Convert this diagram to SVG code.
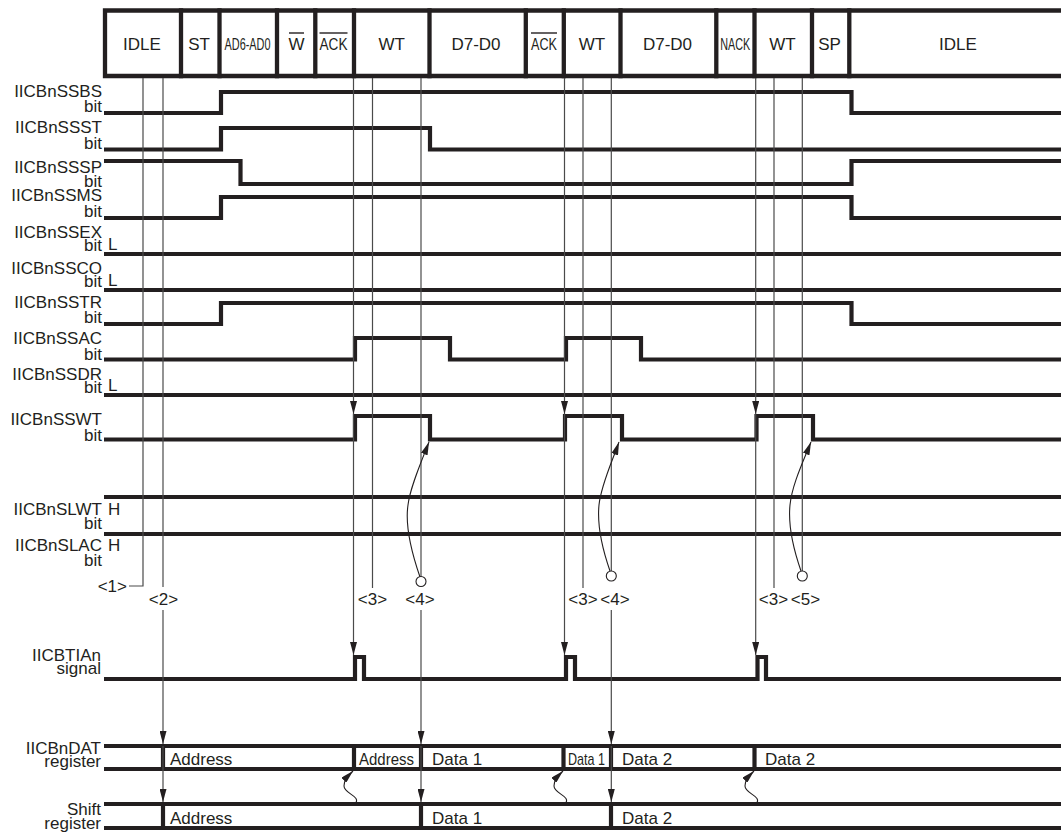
<svg xmlns="http://www.w3.org/2000/svg" width="1061" height="833" viewBox="0 0 1061 833">
<defs>
<style>
.t{font-family:"Liberation Sans",Arial,Helvetica,sans-serif;font-size:17px;fill:#231f20}
.e{text-anchor:end}
.m{text-anchor:middle}
.s{text-anchor:start}
.sig{fill:none;stroke:#231f20;stroke-width:4.2;stroke-linejoin:miter;stroke-linecap:butt}
.bx{fill:none;stroke:#231f20;stroke-width:4.3;stroke-linecap:square}
.ol{stroke:#231f20;stroke-width:1.4}
.v{fill:none;stroke:#4a4a4a;stroke-width:1.2}
.c{fill:none;stroke:#231f20;stroke-width:1.1}
</style>
<marker id="a" viewBox="0 0 13 7" refX="13" refY="3.5" markerWidth="13" markerHeight="7" markerUnits="userSpaceOnUse" orient="auto">
<path d="M0,0 L13,3.5 L0,7 Z" fill="#231f20"/>
</marker>
</defs>
<rect width="1061" height="833" fill="#fff"/>

<g id="header">
<path class="bx" d="M105,10.5 H1063 M105,76 H1063 M105,10.5 V76"/>
<path class="bx" d="M181,10.5 V76 M219.5,10.5 V76 M277,10.5 V76 M315.3,10.5 V76 M354,10.5 V76 M429.5,10.5 V76 M525.8,10.5 V76 M563.8,10.5 V76 M620.5,10.5 V76 M716.3,10.5 V76 M754.5,10.5 V76 M812,10.5 V76 M849.3,10.5 V76"/>
<text class="t m" x="142" y="50">IDLE</text>
<text class="t m" x="199" y="50">ST</text>
<text class="t m" x="247.5" y="50" textLength="46" lengthAdjust="spacingAndGlyphs">AD6-AD0</text>
<text class="t m" x="296.5" y="50">W</text>
<line class="ol" x1="289" y1="33" x2="304" y2="33"/>
<text class="t m" x="333.5" y="50" textLength="28" lengthAdjust="spacingAndGlyphs">ACK</text>
<line class="ol" x1="319.5" y1="33" x2="347.5" y2="33"/>
<text class="t m" x="391.7" y="50">WT</text>
<text class="t m" x="476" y="50">D7-D0</text>
<text class="t m" x="544" y="50" textLength="26" lengthAdjust="spacingAndGlyphs">ACK</text>
<line class="ol" x1="531" y1="33" x2="557" y2="33"/>
<text class="t m" x="592" y="50">WT</text>
<text class="t m" x="667.5" y="50">D7-D0</text>
<text class="t m" x="735.3" y="50" textLength="30" lengthAdjust="spacingAndGlyphs">NACK</text>
<text class="t m" x="782.5" y="50">WT</text>
<text class="t m" x="829.5" y="50">SP</text>
<text class="t m" x="958" y="50">IDLE</text>
</g>

<g id="sig-ssbs">
<text class="t e" x="102" y="97">IICBnSSBS</text><text class="t e" x="102" y="112">bit</text>
<path class="sig" d="M104,113 H221 V92 H851.5 V113 H1063"/>
</g>
<g id="sig-ssst">
<text class="t e" x="102" y="133">IICBnSSST</text><text class="t e" x="102" y="149">bit</text>
<path class="sig" d="M104,149.5 H221 V128 H430 V149.5 H1063"/>
</g>
<g id="sig-sssp">
<text class="t e" x="102" y="173">IICBnSSSP</text><text class="t e" x="102" y="187">bit</text>
<path class="sig" d="M104,161 H240.5 V184 H851.5 V161 H1063"/>
</g>
<g id="sig-ssms">
<text class="t e" x="102" y="201">IICBnSSMS</text><text class="t e" x="102" y="217">bit</text>
<path class="sig" d="M104,218 H221 V197 H851.5 V218 H1063"/>
</g>
<g id="sig-ssex">
<text class="t e" x="102" y="238">IICBnSSEX</text><text class="t e" x="102" y="251">bit</text>
<text class="t s" x="108" y="250">L</text>
<path class="sig" d="M104,254 H1063"/>
</g>
<g id="sig-ssco">
<text class="t e" x="102" y="274">IICBnSSCO</text><text class="t e" x="102" y="287">bit</text>
<text class="t s" x="108" y="286">L</text>
<path class="sig" d="M104,290 H1063"/>
</g>
<g id="sig-sstr">
<text class="t e" x="102" y="308">IICBnSSTR</text><text class="t e" x="102" y="323">bit</text>
<path class="sig" d="M104,324 H221 V303 H851.5 V324 H1063"/>
</g>
<g id="sig-ssac">
<text class="t e" x="102" y="344">IICBnSSAC</text><text class="t e" x="102" y="360">bit</text>
<path class="sig" d="M104,359.5 H355 V338 H450 V359.5 H566 V338 H641 V359.5 H1063"/>
</g>
<g id="sig-ssdr">
<text class="t e" x="102" y="380">IICBnSSDR</text><text class="t e" x="102" y="393">bit</text>
<text class="t s" x="108" y="391">L</text>
<path class="sig" d="M104,395 H1063"/>
</g>
<g id="sig-sswt">
<text class="t e" x="102" y="425">IICBnSSWT</text><text class="t e" x="102" y="441">bit</text>
<path class="sig" d="M104,439.5 H355 V416 H430 V439.5 H565 V416 H622 V439.5 H756.5 V416 H813 V439.5 H1063"/>
</g>
<g id="sig-slwt">
<path class="sig" d="M104,497 H1063"/>
<text class="t e" x="102" y="515">IICBnSLWT</text><text class="t s" x="108" y="515">H</text>
<text class="t e" x="102" y="529">bit</text>
</g>
<g id="sig-slac">
<path class="sig" d="M104,534 H1063"/>
<text class="t e" x="102" y="551">IICBnSLAC</text><text class="t s" x="108" y="551">H</text>
<text class="t e" x="102" y="566">bit</text>
</g>

<g id="markers">
<text class="t e" x="127" y="592">&lt;1&gt;</text>
<text class="t m" x="163.5" y="605">&lt;2&gt;</text>
<text class="t m" x="372.5" y="605">&lt;3&gt;</text>
<text class="t m" x="420" y="605">&lt;4&gt;</text>
<text class="t m" x="583" y="605">&lt;3&gt;</text>
<text class="t m" x="615" y="605">&lt;4&gt;</text>
<text class="t m" x="773.5" y="605">&lt;3&gt;</text>
<text class="t m" x="805.5" y="605">&lt;5&gt;</text>
</g>

<g id="sig-tian">
<text class="t e" x="101" y="661">IICBTIAn</text><text class="t e" x="101" y="674">signal</text>
<path class="sig" d="M104,679 H355 V657 H364 V679 H566 V657 H575 V679 H757.5 V657 H766 V679 H1063"/>
</g>

<g id="reg-dat">
<text class="t e" x="101" y="754">IICBnDAT</text><text class="t e" x="101" y="767">register</text>
<path class="sig" d="M104,746 H1063 M104,769 H1063"/>
<path class="sig" d="M163,746 V769 M354,746 V769 M421,746 V769 M563.5,746 V769 M611,746 V769 M754.5,746 V769"/>
<text class="t s" x="170" y="765">Address</text>
<text class="t s" x="359" y="765" textLength="55" lengthAdjust="spacingAndGlyphs">Address</text>
<text class="t s" x="432" y="765">Data 1</text>
<text class="t s" x="568" y="765" textLength="37" lengthAdjust="spacingAndGlyphs">Data 1</text>
<text class="t s" x="622" y="765">Data 2</text>
<text class="t s" x="765" y="765">Data 2</text>
</g>

<g id="reg-shift">
<text class="t e" x="101" y="815">Shift</text><text class="t e" x="101" y="829">register</text>
<path class="sig" d="M104,804 H1063 M104,828 H1063"/>
<path class="sig" d="M163,804 V828 M421,804 V828 M611,804 V828"/>
<text class="t s" x="170" y="824">Address</text>
<text class="t s" x="432" y="824">Data 1</text>
<text class="t s" x="622" y="824">Data 2</text>
</g>

<g id="connectors">
<path class="v" d="M143,78 V586 H129"/>
<path class="v" d="M163,78 V587"/>
<path class="v" d="M163,610 V744" marker-end="url(#a)"/>
<path class="v" d="M163,746 V802" marker-end="url(#a)"/>
<path class="v" d="M353.5,78 V414" marker-end="url(#a)"/>
<path class="v" d="M353.5,414 V655" marker-end="url(#a)"/>
<path class="v" d="M372.5,78 V588"/>
<path class="v" d="M421,78 V576.5"/>
<circle class="c" cx="421" cy="581.5" r="5"/>
<path class="v" d="M421,610 V744" marker-end="url(#a)"/>
<path class="v" d="M421,746 V802" marker-end="url(#a)"/>
<path class="v" d="M564.5,78 V414" marker-end="url(#a)"/>
<path class="v" d="M564.5,414 V655" marker-end="url(#a)"/>
<path class="v" d="M583,78 V588"/>
<path class="v" d="M611.3,78 V571"/>
<circle class="c" cx="611.3" cy="576" r="5"/>
<path class="v" d="M611.3,610 V744" marker-end="url(#a)"/>
<path class="v" d="M611.3,746 V802" marker-end="url(#a)"/>
<path class="v" d="M755.7,78 V414" marker-end="url(#a)"/>
<path class="v" d="M755.7,414 V655" marker-end="url(#a)"/>
<path class="v" d="M774,78 V588"/>
<path class="v" d="M802.3,78 V571"/>
<circle class="c" cx="802.3" cy="576" r="5"/>
<path class="c" d="M420,577 C410,548 405,525 408,505 C410,488 420,465 429,442" marker-end="url(#a)"/>
<path class="c" d="M610,571 C602,548 597,525 599,505 C601,485 612,462 619,442" marker-end="url(#a)"/>
<path class="c" d="M801,571 C793,548 788,525 790,505 C792,485 803,462 811,442" marker-end="url(#a)"/>
<path class="c" d="M355,804 C362,796 344,794 344,786 C344,780 347,777 353,771" marker-end="url(#a)"/>
<path class="c" d="M565,804 C572,796 554,794 554,786 C554,780 557,777 563,771" marker-end="url(#a)"/>
<path class="c" d="M756,804 C763,796 745,794 745,786 C745,780 748,777 754,771" marker-end="url(#a)"/>
</g>
</svg>
